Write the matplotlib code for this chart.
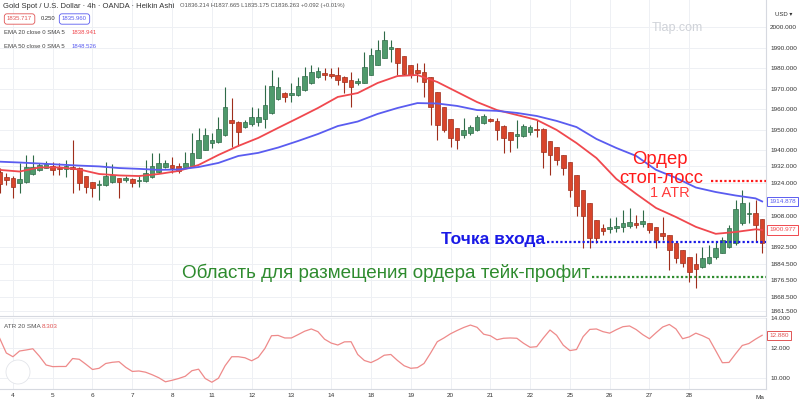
import numpy as np
import matplotlib.pyplot as plt
from matplotlib.patches import Ellipse
import matplotlib.transforms as mtransforms

plt.rcParams['font.family'] = ['Liberation Sans', 'DejaVu Sans']

# Heikin Ashi 4h candles, gold spot
ha_open = [1929.3, 1926.8, 1926.3, 1923.9, 1924.4, 1928.3, 1930.2, 1931.2, 1932.2, 1931.2,
           1930.7, 1931.7, 1931.2, 1927.3, 1924.4, 1922.9, 1922.9, 1924.4, 1926.3, 1925.4,
           1925.9, 1924.9, 1924.9, 1926.8, 1929.3, 1931.7, 1932.7, 1932.2, 1931.7, 1932.2,
           1936.1, 1940.0, 1943.4, 1943.9, 1947.3, 1954.6, 1953.7, 1951.2, 1952.7, 1953.7,
           1955.1, 1958.0, 1964.9, 1967.8, 1966.8, 1966.8, 1969.3, 1972.7, 1975.6, 1977.6,
           1977.1, 1976.6, 1975.6, 1974.2, 1972.7, 1972.7, 1976.6, 1981.5, 1984.9, 1989.3,
           1989.8, 1985.9, 1981.5, 1979.0, 1978.1, 1975.6, 1968.3, 1961.0, 1955.1, 1950.7,
           1947.3, 1948.3, 1949.8, 1953.2, 1955.1, 1954.1, 1951.7, 1948.8, 1946.8, 1946.8,
           1948.8, 1950.2, 1950.2, 1944.4, 1941.5, 1937.6, 1934.1, 1927.8, 1920.5, 1914.1,
           1905.8, 1901.9, 1901.4, 1901.9, 1902.4, 1902.9, 1904.4, 1903.9, 1904.4, 1902.4,
           1899.5, 1898.5, 1894.6, 1891.2, 1887.8, 1884.4, 1882.9, 1884.9, 1887.8, 1889.7,
           1892.7, 1894.6, 1904.4, 1908.8, 1909.3, 1906.3]
ha_high = [1931.2, 1928.8, 1927.3, 1933.7, 1937.6, 1937.6, 1933.7, 1934.6, 1934.2, 1933.7,
           1935.1, 1944.9, 1931.5, 1927.5, 1924.6, 1925.4, 1934.2, 1933.2, 1926.5, 1927.5,
           1926.1, 1927.3, 1935.1, 1938.5, 1938.5, 1935.1, 1936.6, 1933.7, 1939.0, 1948.3,
           1950.7, 1950.7, 1948.3, 1956.1, 1970.7, 1965.4, 1954.0, 1954.6, 1961.0, 1960.5,
           1971.7, 1979.0, 1975.6, 1968.3, 1972.7, 1975.6, 1980.5, 1981.5, 1980.5, 1980.0,
           1980.0, 1980.5, 1976.0, 1978.1, 1975.1, 1987.8, 1989.8, 1993.7, 1998.1, 1993.7,
           1990.0, 1986.0, 1981.7, 1982.5, 1982.5, 1975.8, 1968.5, 1961.2, 1955.3, 1950.9,
           1955.6, 1952.2, 1957.1, 1957.6, 1955.6, 1955.6, 1952.0, 1949.0, 1954.6, 1952.7,
           1952.2, 1954.6, 1950.5, 1944.6, 1941.7, 1937.8, 1934.3, 1928.0, 1920.7, 1914.3,
           1906.0, 1903.9, 1906.8, 1907.3, 1910.7, 1911.7, 1908.3, 1910.7, 1904.6, 1902.6,
           1907.3, 1898.7, 1894.8, 1891.4, 1888.0, 1889.7, 1892.7, 1893.6, 1895.1, 1897.5,
           1903.4, 1915.6, 1920.5, 1914.6, 1915.6, 1906.5]
ha_low = [1919.0, 1922.9, 1916.6, 1919.0, 1924.0, 1928.0, 1929.8, 1931.0, 1927.8, 1927.8,
          1926.8, 1919.0, 1920.5, 1919.0, 1917.1, 1915.6, 1922.5, 1924.0, 1916.6, 1924.4,
          1921.9, 1921.9, 1924.6, 1926.5, 1929.0, 1931.2, 1928.8, 1928.8, 1931.5, 1932.0,
          1935.9, 1939.8, 1941.0, 1943.6, 1947.0, 1941.5, 1942.0, 1950.7, 1951.7, 1951.7,
          1950.7, 1957.8, 1964.6, 1963.4, 1963.4, 1966.4, 1969.0, 1972.4, 1975.3, 1974.2,
          1975.1, 1971.7, 1967.8, 1961.0, 1971.7, 1972.5, 1976.4, 1981.3, 1984.7, 1982.9,
          1976.6, 1976.6, 1975.1, 1973.2, 1965.9, 1952.2, 1944.9, 1948.8, 1941.5, 1940.5,
          1945.9, 1947.3, 1949.3, 1952.7, 1953.7, 1944.9, 1938.5, 1939.0, 1941.0, 1946.3,
          1947.3, 1946.3, 1931.2, 1927.8, 1932.7, 1927.8, 1917.1, 1907.8, 1892.2, 1892.2,
          1894.6, 1898.5, 1899.5, 1900.0, 1900.0, 1901.9, 1901.9, 1902.4, 1899.5, 1892.2,
          1896.1, 1881.4, 1884.9, 1882.9, 1875.6, 1872.7, 1882.6, 1884.6, 1886.8, 1889.5,
          1892.2, 1893.6, 1903.4, 1904.4, 1895.1, 1889.7]
ha_close = [1923.4, 1925.4, 1922.0, 1925.9, 1931.7, 1931.7, 1932.7, 1933.2, 1930.2, 1930.7,
            1932.2, 1930.7, 1923.9, 1922.0, 1921.5, 1923.4, 1927.3, 1927.8, 1924.4, 1926.3,
            1923.9, 1925.4, 1928.8, 1932.2, 1933.7, 1933.7, 1931.2, 1929.8, 1933.7, 1938.5,
            1944.9, 1947.3, 1944.9, 1950.2, 1961.0, 1953.2, 1948.8, 1953.7, 1956.1, 1956.1,
            1962.0, 1971.2, 1970.7, 1965.9, 1967.8, 1971.2, 1976.1, 1978.1, 1978.6, 1976.6,
            1976.1, 1974.2, 1973.2, 1970.7, 1973.7, 1980.5, 1986.4, 1988.8, 1993.7, 1990.3,
            1982.5, 1977.1, 1976.6, 1977.6, 1973.2, 1961.0, 1952.2, 1949.8, 1945.9, 1944.9,
            1949.8, 1951.2, 1956.1, 1956.6, 1954.1, 1949.8, 1945.9, 1944.9, 1947.8, 1951.7,
            1951.2, 1949.8, 1939.0, 1937.6, 1935.1, 1931.2, 1920.5, 1912.7, 1907.8, 1897.1,
            1897.1, 1900.5, 1902.4, 1902.9, 1904.4, 1904.9, 1903.4, 1905.4, 1900.9, 1896.1,
            1898.0, 1891.2, 1887.3, 1884.9, 1880.5, 1881.9, 1887.3, 1887.8, 1892.2, 1896.1,
            1901.9, 1911.2, 1914.1, 1909.3, 1903.4, 1894.6]

# moving averages, sampled every 3rd candle
ema_idx = list(range(0, 115, 3)) + [115]
ema20 = [1930.3, 1929.5, 1931.5, 1931.5, 1930.5, 1928.3, 1927.6, 1927.3, 1928.3, 1929.8,
         1932.7, 1937.6, 1942.0, 1945.9, 1950.8, 1955.6, 1960.5, 1965.9, 1967.8, 1972.7,
         1976.1, 1976.6, 1973.2, 1968.3, 1963.4, 1959.5, 1957.1, 1954.7, 1949.8, 1943.4,
         1936.1, 1925.9, 1918.6, 1911.7, 1907.3, 1902.5, 1899.1, 1900.0, 1901.3, 1901.0]
ema50 = [1934.3, 1933.9, 1933.4, 1932.9, 1932.4, 1932.0, 1931.2, 1930.8, 1930.3, 1930.5,
         1931.7, 1933.7, 1937.1, 1938.6, 1941.2, 1944.4, 1947.8, 1951.7, 1953.9, 1957.6,
         1960.5, 1962.9, 1962.7, 1961.5, 1959.5, 1959.1, 1958.1, 1956.6, 1954.2, 1951.2,
         1945.4, 1941.0, 1937.1, 1930.3, 1926.4, 1921.7, 1919.5, 1917.8, 1916.4, 1914.9]

# ATR 20 per candle
atr = [12.68, 11.7, 11.45, 11.83, 11.9, 11.98, 11.48, 10.9, 10.79, 10.8,
       10.8, 11.33, 11.28, 10.95, 10.6, 10.68, 11.0, 11.08, 11.12, 10.75,
       10.47, 10.5, 10.42, 10.25, 10.05, 9.78, 9.88, 10.0, 10.15, 10.52,
       10.62, 10.0, 9.75, 10.02, 10.85, 11.45, 11.45, 11.38, 11.18, 11.41,
       12.0, 12.85, 12.87, 12.7, 12.7, 12.92, 13.15, 13.3, 13.12, 12.62,
       12.36, 12.23, 12.44, 12.45, 11.6, 11.2, 11.06, 11.27, 11.55, 11.6,
       11.2, 10.85, 10.68, 10.72, 11.0, 11.7, 12.45, 12.7, 12.98, 13.2,
       13.4, 13.56, 13.41, 12.95, 12.85, 12.58, 12.68, 12.7, 12.68, 12.35,
       12.08, 12.12, 12.7, 13.23, 12.88, 12.22, 11.86, 11.93, 12.79, 13.27,
       13.3, 13.12, 13.02, 13.25, 13.45, 13.5, 13.26, 12.92, 12.65, 13.05,
       13.43, 13.6, 13.3, 12.65, 12.77, 13.02, 12.85, 12.64, 11.85, 11.05,
       11.07, 11.65, 12.2, 12.33, 12.62, 12.88]

day_labels = ['4', '5', '6', '7', '8', '11', '12', '13', '14', '18',
              '19', '20', '21', '22', '25', '26', '27', '28']
price_ticks = [1861.5, 1868.5, 1876.5, 1884.5, 1892.5, 1908, 1924, 1932,
               1940, 1950, 1960, 1970, 1980, 1990, 2000]
atr_ticks = [10, 12, 14]

# trade levels
stop_level, stop_from = 1924.9, 107.3
entry_level, entry_from = 1895.1, 82.5
tp_level, tp_from = 1878.1, 89.3

GREEN, GREEN_E = '#4f9a6c', '#2f6b48'
RED, RED_E = '#d8452b', '#9e2e1c'
GRID = '#eef0f4'
LINE = '#d6d9e0'

fig = plt.figure(figsize=(8, 4.04), dpi=100)
ax = fig.add_axes([0, 1 - 316 / 404, 766 / 800, 316 / 404])
ax2 = fig.add_axes([0, 1 - 389 / 404, 766 / 800, 71 / 404], sharex=ax)

n = len(ha_open)
idx = np.arange(n)
o = np.array(ha_open)
c = np.array(ha_close)
up = c >= o
body_col = [GREEN if u else RED for u in up]
edge_col = [GREEN_E if u else RED_E for u in up]

ax.vlines(idx, ha_low, ha_high, colors=edge_col, lw=0.8, zorder=2)
ax.bar(idx, np.maximum(np.abs(c - o), 0.6), bottom=np.minimum(o, c), width=0.7,
       color=body_col, edgecolor=edge_col, linewidth=0.5, zorder=3)

ax.plot(ema_idx, ema20, color='#f0484e', lw=1.3, zorder=4)
ax.plot(ema_idx, ema50, color='#5a5cf0', lw=1.3, zorder=4)

ax.set_xlim(0.05, 115.58)
ax.set_ylim(1859, 2013.2)
ax.set_yticks(price_ticks)
ax.set_yticklabels(['%.3f' % p for p in price_ticks])
ax.yaxis.tick_right()
ax.tick_params(axis='y', length=0, pad=3, labelsize=4.6, labelcolor='#333333')
ax.tick_params(axis='x', length=0, labelbottom=False)
day_pos = [2 + 6 * k for k in range(len(day_labels))]
ax.set_xticks(day_pos)
ax.grid(True, color=GRID, lw=0.7, zorder=0)
for s in ['top', 'left']:
    ax.spines[s].set_visible(False)
ax.spines['right'].set_color(LINE)
ax.spines['bottom'].set_color(LINE)

# trade annotations
dots = (0, (1, 1))
ax.hlines(stop_level, stop_from, 115.58, colors='#ff1a1a', lw=1.6, linestyles=dots, zorder=5)
ax.hlines(entry_level, entry_from, 115.58, colors='#1a1ae6', lw=1.6, linestyles=dots, zorder=5)
ax.hlines(tp_level, tp_from, 115.58, colors='#2e8b2e', lw=1.6, linestyles=dots, zorder=5)
ax.text(99.6, 1935.2, 'Ордер', color='#ff1a1a', fontsize=13.3, ha='center', va='center', zorder=6)
ax.text(99.8, 1926.0, 'стоп-лосс', color='#ff1a1a', fontsize=13.3, ha='center', va='center', zorder=6)
ax.text(101.1, 1919.0, '1 ATR', color='#ff3b3b', fontsize=10.5, ha='center', va='center', zorder=6)
ax.text(82.2, 1896.1, 'Точка входа', color='#1a1ae6', fontsize=12.5, fontweight='bold',
        ha='right', va='center', zorder=6)
ax.text(89.0, 1880.0, 'Область для размещения ордера тейк-профит', color='#2e8b2e',
        fontsize=13.6, ha='right', va='center', zorder=6)

# last value boxes on the price scale
trans = mtransforms.blended_transform_factory(ax.transAxes, ax.transData)
ax.text(1.004, ema50[-1], '%.3f' % 1914.878, transform=trans, fontsize=4.6, color='#5a5cf0',
        va='center', ha='left', clip_on=False,
        bbox=dict(boxstyle='square,pad=0.35', fc='white', ec='#5a5cf0', lw=0.7))
ax.text(1.004, ema20[-1], '%.3f' % 1900.977, transform=trans, fontsize=4.6, color='#f0484e',
        va='center', ha='left', clip_on=False,
        bbox=dict(boxstyle='square,pad=0.35', fc='white', ec='#f0484e', lw=0.7))

# ATR pane
ax2.plot(idx, atr, color='#ee8a8a', lw=0.9)
ax2.set_ylim(9.3, 14.03)
ax2.set_yticks(atr_ticks)
ax2.set_yticklabels(['%.3f' % v for v in atr_ticks])
ax2.yaxis.tick_right()
ax2.tick_params(axis='y', length=0, pad=3, labelsize=4.6, labelcolor='#333333')
ax2.set_xticks(day_pos)
ax2.set_xticklabels(day_labels)
ax2.tick_params(axis='x', length=0, pad=3, labelsize=4.6, labelcolor='#333333')
ax2.grid(True, color=GRID, lw=0.7, zorder=0)
for s in ['top', 'left']:
    ax2.spines[s].set_visible(False)
ax2.spines['right'].set_color(LINE)
ax2.spines['bottom'].set_color(LINE)
trans2 = mtransforms.blended_transform_factory(ax2.transAxes, ax2.transData)
ax2.text(1.004, atr[-1], '%.3f' % atr[-1], transform=trans2, fontsize=4.6, color='#e05555',
         va='center', ha='left', clip_on=False,
         bbox=dict(boxstyle='square,pad=0.35', fc='white', ec='#e05555', lw=0.7))
ax2.text(114.7, -0.12, 'Ma', transform=mtransforms.blended_transform_factory(ax2.transData, ax2.transAxes),
         fontsize=4.6, color='#333333', ha='center', va='center', clip_on=False)
ax2.text(0.005, 0.88, 'ATR 20 SMA', transform=ax2.transAxes, fontsize=4.6, color='#555555', va='center')
ax2.text(0.055, 0.88, '8.303', transform=ax2.transAxes, fontsize=4.6, color='#e05555', va='center')
fig.add_artist(Ellipse((18 / 800, 1 - 372 / 404), 24 / 800, 24 / 404, fc='white', ec='#e3e5ea', lw=0.6))

# header / legend
fig.text(3 / 800, 1 - 6 / 404, 'Gold Spot / U.S. Dollar · 4h · OANDA · Heikin Ashi', fontsize=5.5,
         color='#333333', va='center')
fig.text(180 / 800, 1 - 6 / 404, 'O1836.214 H1837.665 L1835.175 C1836.263 +0.092 (+0.01%)',
         fontsize=4.2, color='#555555', va='center')
fig.text(7 / 800, 1 - 19 / 404, '1835.717', fontsize=4.3, color='#e05555', va='center',
         bbox=dict(boxstyle='round,pad=0.45', fc='white', ec='#e05555', lw=0.6))
fig.text(41 / 800, 1 - 19 / 404, '0.250', fontsize=4.2, color='#333333', va='center')
fig.text(62 / 800, 1 - 19 / 404, '1835.960', fontsize=4.3, color='#5a5cf0', va='center',
         bbox=dict(boxstyle='round,pad=0.45', fc='white', ec='#5a5cf0', lw=0.6))
fig.text(4 / 800, 1 - 33 / 404, 'EMA 20 close 0 SMA 5', fontsize=4.3, color='#444444', va='center')
fig.text(72 / 800, 1 - 33 / 404, '1838.941', fontsize=4.3, color='#f0484e', va='center')
fig.text(4 / 800, 1 - 46 / 404, 'EMA 50 close 0 SMA 5', fontsize=4.3, color='#444444', va='center')
fig.text(72 / 800, 1 - 46 / 404, '1848.526', fontsize=4.3, color='#5a5cf0', va='center')
fig.text(775 / 800, 1 - 14 / 404, 'USD ▾', fontsize=4.3, color='#333333', va='center')
fig.text(652 / 800, 1 - 28 / 404, 'Tlap.com', fontsize=9, color='#cfd2d8', va='center')

fig.savefig('out.png', dpi=100)
